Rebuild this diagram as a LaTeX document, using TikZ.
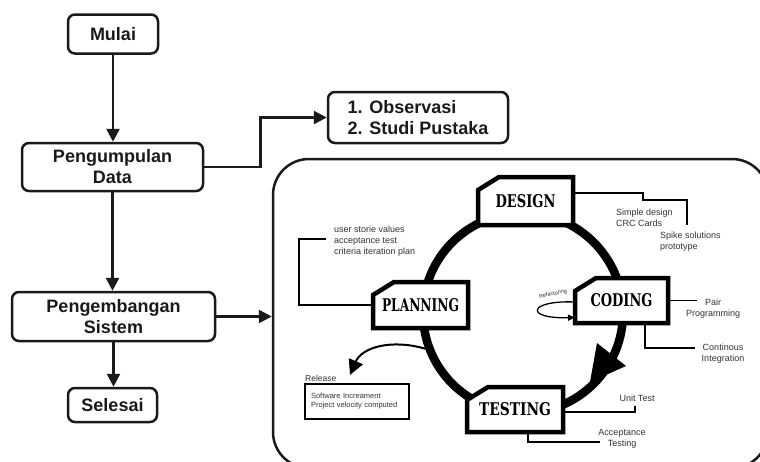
\documentclass[tikz,border=0pt]{standalone}
\usepackage{fontspec}
\setmainfont{Liberation Sans}
\newfontfamily\cycfont{DejaVu Serif}
\usetikzlibrary{arrows.meta}
\pgfdeclarelayer{back}
\pgfsetlayers{back,main}
\definecolor{ink}{HTML}{1A1A1A}
\definecolor{txt}{HTML}{333333}
\newcommand\cycword[2]{\resizebox{#1}{13pt}{\cycfont\bfseries #2}}
\newcommand\tabshape[1]{\draw[tabline] (#1.south west) -- ([yshift=-13pt]#1.north west) -- ([xshift=21pt]#1.north west) -- (#1.north east) -- (#1.south east) -- cycle;}
\begin{document}
\begin{tikzpicture}[x=1pt,y=-1pt,
 flowbox/.style={draw=ink, line width=2.5pt, rounded corners=7pt, inner sep=0pt, align=center, font=\fontsize{18}{21}\selectfont\bfseries, text=ink},
 flowarrow/.style={draw=ink, line width=2.5pt, -{Triangle[length=13pt,width=13pt]}},
 tabnode/.style={inner sep=0pt, outer sep=0pt, minimum height=46pt},
 tabline/.style={draw=black, line width=4.5pt, fill=white, line join=miter},
 lbl/.style={text=txt, font=\fontsize{9}{11}\selectfont, inner sep=0pt},
 conn/.style={draw=black, line width=1.6pt},
]
\useasboundingbox (0,0) rectangle (760,461);
\clip (0,0) rectangle (760,461);

% left flowchart
\node[flowbox, minimum width=90pt, minimum height=39pt] (mulai) at (113,34) {Mulai};
\node[flowbox, minimum width=181pt, minimum height=48pt] (peng) at (112.5,167) {Pengumpulan\\Data};
\node[flowbox, minimum width=203pt, minimum height=49pt] (pgb) at (113.5,316.5) {Pengembangan\\Sistem};
\node[flowbox, minimum width=89pt, minimum height=34pt] (sel) at (112.5,405) {Selesai};
\node[flowbox, minimum width=180pt, minimum height=51pt, align=left] (obs) at (418,117.5) {1. Observasi\\2. Studi Pustaka};

\draw[flowarrow] (mulai.south) -- (mulai.south |- peng.north);
\draw[flowarrow] (peng.south) -- (peng.south |- pgb.north);
\draw[flowarrow] (pgb.south) -- (pgb.south |- sel.north);
\draw[flowarrow] (peng.east) -- ++(56,0) |- (obs.west);

% big frame
\node[draw=ink, line width=2.5pt, rounded corners=36pt, minimum width=495pt, minimum height=309pt, inner sep=0pt] (xp) at (520.5,313.5) {};
\draw[flowarrow] (pgb.east) -- (pgb.east -| xp.west);

% cycle boxes (text)
\node[tabnode, minimum width=95pt, minimum height=48pt] (des) at (525.5,201) {\cycword{60pt}{DESIGN}};
\node[tabnode, minimum width=95pt] (plan) at (420.5,305) {\cycword{77pt}{PLANNING}};
\node[tabnode, minimum width=93pt, minimum height=45pt] (cod) at (621.5,300.5) {\cycword{62pt}{CODING}};
\node[tabnode, minimum width=96pt, minimum height=45pt] (test) at (515,409.5) {\cycword{72pt}{TESTING}};

\begin{pgfonlayer}{back}
\fill[white] (0,0) rectangle (760,461);
\node[circle, draw=black, line width=8.5pt, minimum size=200pt, inner sep=0pt] (cyc) at (523,313) {};
\tabshape{des}
\tabshape{plan}
\tabshape{cod}
\tabshape{test}
\end{pgfonlayer}

% big arrowhead on the cycle
\fill[black] (597,343) -- (626,366) -- (590,382) -- cycle;

% DESIGN notes
\draw[conn] ([yshift=8pt]des.east) -- ++(70,0) -- ++(0,7) -- ++(44,0) -- ++(0,25);
\node[lbl, anchor=west, align=left] (simple) at (616,217.5) {Simple design\\CRC Cards};
\node[lbl, anchor=west, align=left] (spike) at (660,242) {Spike solutions\\prototype};

% PLANNING notes
\draw[conn] (plan.west) -- ++(-74,0) -- ++(0,-66) -- ++(27,0);
\node[lbl, anchor=west, align=left] (user) at (334,241) {user storie values\\acceptance test\\criteria iteration plan};

% CODING notes
\draw[conn] (cod.east) -- ++(29,0);
\node[lbl, align=center] (pair) at (713,309) {Pair\\Programming};
\draw[conn] ([xshift=23.5pt]cod.south) -- ++(0,25) -- ++(50,0);
\node[lbl, align=center] (ci) at (723,353.5) {Continous\\Integration};
\draw[line width=1.3pt, -{Triangle[length=7pt,width=6pt]}] ([yshift=-1.5pt]cod.west) .. controls (528,300) and (524,319) .. ([yshift=-17pt]cod.west);
\node[text=txt, font=\fontsize{5.5}{6}\selectfont, rotate=12, inner sep=0pt] (refac) at (553,294) {Refactoring};

% TESTING notes
\draw[conn] ([yshift=-2.5pt]test.east) -- ++(72,0) -- ++(0,-6);
\node[lbl] (unit) at (637,398) {Unit Test};
\draw[conn] ([xshift=13pt]test.south) -- ++(0,10) -- ++(72,0);
\node[lbl, align=center] (acc) at (622,438.5) {Acceptance\\Testing};

% Release
\coordinate (reltip) at (350,375);
\draw[line width=2pt, -{Triangle[length=15pt,width=15pt]}] (cyc.200) .. controls (392,339) and (362,347) .. (reltip);
\node[text=txt, font=\fontsize{8.5}{10}\selectfont, anchor=west, inner sep=0pt] (rel) at (305,378) {Release};
\node[draw=black, line width=2pt, text=txt, font=\fontsize{7.5}{9}\selectfont, align=left, text width=92pt, inner xsep=6pt, inner ysep=0pt, minimum height=35pt] (relbox) at (357,401.5) {Software Increament\\Project velocity computed};
\end{tikzpicture}
\end{document}
